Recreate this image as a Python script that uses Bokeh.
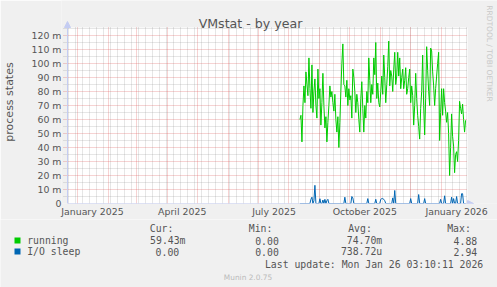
import datetime as dt
import math
import pandas as pd
from bokeh.plotting import figure
from bokeh.models import Range1d, FixedTicker, Label, Arrow, NormalHead, BoxAnnotation
from bokeh.embed import file_html
from bokeh.resources import INLINE

# ---------------- data ----------------
ORIGIN = dt.date(2025, 1, 1)
series_start = dt.date(2025, 8, 12)

# process states, in milli-units (m), one value per day
running = [
    60, 63, 44, 70, 84, 72, 94, 85, 77, 104,
    82, 68, 99, 65, 80, 89, 70, 61, 96, 75,
    82, 56, 72, 93, 70, 54, 62, 44, 58, 70,
    84, 76, 80, 72, 66, 78, 60, 51, 62, 40,
    58, 80, 100, 114, 85, 84, 76, 88, 70, 82,
    74, 77, 61, 96, 90, 80, 65, 78, 72, 60,
    51, 75, 87, 68, 51, 70, 61, 80, 72, 104,
    88, 72, 85, 78, 104, 92, 115, 75, 86, 72,
    69, 80, 91, 78, 106, 90, 72, 85, 98, 116,
    84, 95, 91, 80, 96, 108, 85, 91, 108, 91,
    104, 82, 90, 96, 82, 88, 97, 78, 82, 90,
    96, 72, 84, 77, 56, 70, 93, 75, 63, 55,
    46, 68, 80, 106, 70, 49, 75, 112, 95, 80,
    70, 111, 109, 94, 84, 70, 82, 91, 100, 108,
    45, 65, 82, 63, 82, 72, 66, 58, 65, 50,
    20, 40, 64, 48, 41, 22, 35, 37, 30, 45,
    73, 68, 64, 71, 60, 51, 59.43,
]
io_sleep = [
    0, 0, 0, 0, 0, 0, 0, 0, 0, 0,
    0, 3, 4.5, 0, 2, 13, 0, 0, 0, 0,
    3.4, 0, 0, 2.5, 0, 3, 0, 2, 3, 0,
    0, 0, 0, 0, 0, 0, 0, 0, 0, 0,
    0, 0, 0, 0, 0, 4.5, 0, 0, 0, 0,
    0, 0, 5, 4, 0, 0, 0, 0, 0, 0,
    0, 0, 0, 0, 0, 0, 0, 0, 3.5, 0,
    0, 0, 0, 0, 0, 0, 3, 0, 0, 0,
    0, 3, 3.5, 3.5, 3, 2, 0, 0, 0, 0,
    0, 0, 0, 4, 0, 9.3, 0, 0, 0, 0,
    0, 0, 0, 0, 0, 0, 0, 0, 0, 0,
    0, 3.5, 0, 0, 0, 0, 0, 0, 0, 6.4,
    0, 0, 0, 0, 0, 3.5, 0, 0, 0, 0,
    0, 0, 0, 0, 0, 0, 0, 0, 0, 0,
    0, 3, 0, 0, 0, 5.5, 0, 0, 0, 0,
    0, 0, 4.5, 0, 3.5, 0, 0, 5, 0, 0,
    0, 0, 7, 7, 0, 0, 0,
]

y_major = [0, 10, 20, 30, 40, 50, 60, 70, 80, 90, 100, 110, 120]
y_minor = [5, 15, 25, 35, 45, 55, 65, 75, 85, 95, 105, 115, 125]
y_labels = ["0", "10 m", "20 m", "30 m", "40 m", "50 m", "60 m", "70 m",
            "80 m", "90 m", "100 m", "110 m", "120 m"]

x_label_dates = [dt.date(2025, 1, 16), dt.date(2025, 4, 16), dt.date(2025, 7, 17),
                 dt.date(2025, 10, 16), dt.date(2026, 1, 16)]
x_labels = ["January 2025", "April 2025", "July 2025", "October 2025", "January 2026"]

legend_names = ["running", "I/O sleep"]
legend_colors = ["#00CC00", "#0066B3"]
cur_vals = ["59.43m", "0.00"]
min_vals = ["0.00", "0.00"]
avg_vals = ["74.70m", "738.72u"]
max_vals = ["4.88", "2.94"]
last_update = "Last update: Mon Jan 26 03:10:11 2026"


def day(d):
    return (d - ORIGIN).days


month_starts = [day(d.date()) for d in pd.date_range("2025-01-01", "2026-01-01", freq="MS")]
week_starts = [day(d.date()) for d in pd.date_range("2024-12-23", "2026-01-26", freq="W-MON")]

xs = [day(series_start) + i for i in range(len(running))]

# ---------------- geometry ----------------
FONT_C = "#555555"
AXIS_C = "#C4CCF2"
BG = "#F0F0F0"
TOP_H = 219
BOT_H = 287 - TOP_H
FL, FB = 60, 203          # frame left / bottom (canvas px) of the top figure
PX_PER_DAY = 1.0
PX_PER_UNIT = 1.4
X0_PX = 76                # canvas x of 2025-01-01
XMIN, XMAX = -10, 391     # visible plot area (days)
YMAX = 125.7

p = figure(width=497, height=TOP_H, output_backend="svg", toolbar_location=None,
           title=None,
           x_range=Range1d((FL - X0_PX) / PX_PER_DAY, (497 - X0_PX) / PX_PER_DAY),
           y_range=Range1d(0, FB / PX_PER_UNIT),
           min_border_left=FL, min_border_right=0, min_border_top=0,
           min_border_bottom=TOP_H - FB)
p.background_fill_color = BG
p.border_fill_color = BG
p.outline_line_color = None

# white canvas area of the chart
p.add_layout(BoxAnnotation(left=XMIN, right=XMAX, bottom=0, top=YMAX,
                           fill_color="#FFFFFF", fill_alpha=1.0, line_color=None,
                           level="image"))

# grids (dotted, rrdtool style)
p.ygrid.ticker = FixedTicker(ticks=y_major, minor_ticks=y_minor)
p.xgrid.ticker = FixedTicker(ticks=month_starts, minor_ticks=week_starts)
p.ygrid.cross_bounds = (XMIN - 3.5, XMAX)
p.xgrid.cross_bounds = (-2.5 / PX_PER_UNIT, YMAX)
for g in (p.xgrid, p.ygrid):
    g.grid_line_color = "#DE4F4F"
    g.grid_line_alpha = 0.5
    g.grid_line_dash = "1 1"
    g.minor_grid_line_color = "#8F8F8F"
    g.minor_grid_line_alpha = 0.45
    g.minor_grid_line_dash = "1 1"

# axes
xa = p.xaxis[0]
xa.ticker = FixedTicker(ticks=[day(d) for d in x_label_dates])
xa.major_label_overrides = {day(d): t for d, t in zip(x_label_dates, x_labels)}
xa.major_label_standoff = 2

ya = p.yaxis[0]
ya.ticker = FixedTicker(ticks=y_major)
ya.major_label_overrides = dict(zip(y_major, y_labels))
ya.major_label_standoff = 0
ya.axis_label = "process states"
ya.axis_label_text_font = "DejaVu Sans"
ya.axis_label_text_font_size = "11px"
ya.axis_label_text_font_style = "normal"
ya.axis_label_text_color = FONT_C
ya.axis_label_standoff = 12

for a in (xa, ya):
    a.axis_line_color = None
    a.major_tick_out = 0
    a.major_tick_in = 0
    a.minor_tick_out = 0
    a.minor_tick_in = 0
    a.major_label_text_font = "DejaVu Sans"
    a.major_label_text_font_size = "9.4px"
    a.major_label_text_color = FONT_C

# data
p.line(xs, running, line_color=legend_colors[0], line_width=1)
p.line(xs, io_sleep, line_color=legend_colors[1], line_width=1)

# axis lines with arrows
p.add_layout(Arrow(end=NormalHead(size=6, fill_color=AXIS_C, line_color=AXIS_C),
                   x_start=XMIN, y_start=0, x_end=XMIN, y_end=(FB - 21) / PX_PER_UNIT,
                   line_color=AXIS_C, line_width=1))
p.add_layout(Arrow(end=NormalHead(size=6, fill_color=AXIS_C, line_color=AXIS_C),
                   x_start=XMIN, y_start=0, x_end=473 - X0_PX, y_end=0,
                   line_color=AXIS_C, line_width=1))


def lab(fig, text, X, Y, size, color=FONT_C, font="DejaVu Sans Mono", align="left",
        baseline="middle", angle=0.0, top=True):
    if top:
        x, y = X - FL, FB - Y
    else:
        x, y = X, 287 - Y
    fig.add_layout(Label(x=x, y=y, x_units="screen", y_units="screen",
                         text=text, text_font=font, text_font_size=f"{size}px",
                         text_color=color, text_align=align, text_baseline=baseline,
                         angle=angle))


# title and watermark
lab(p, "VMstat - by year", 249, 22.7, 12.6, font="DejaVu Sans", align="center",
    baseline="alphabetic")
lab(p, "RRDTOOL / TOBI OETIKER", 488, 53, 7.5, color="#C8C8C8", font="DejaVu Sans",
    align="center", angle=-math.pi / 2)

# ---------------- legend area (separate root, frame covers it all) ----------------
q = figure(width=497, height=BOT_H, output_backend="svg", toolbar_location=None,
           title=None, x_range=Range1d(0, 497), y_range=Range1d(0, BOT_H),
           x_axis_location=None, y_axis_location=None,
           min_border_left=0, min_border_right=0, min_border_top=0, min_border_bottom=0)
q.grid.visible = False
q.background_fill_color = BG
q.border_fill_color = BG
q.outline_line_color = None

MS = 9.8
lab(q, "Cur:", 149.3, 228.3, MS, top=False)
lab(q, "Min:", 248.3, 228.3, MS, top=False)
lab(q, "Avg:", 347.7, 228.3, MS, top=False)
lab(q, "Max:", 446.7, 228.3, MS, top=False)
rows_y = [240, 251]
cur_right = [185, 178.7]
for i in range(2):
    yy = rows_y[i]
    q.add_layout(BoxAnnotation(left=14, right=20, bottom=287 - (yy + 3),
                               top=287 - (yy - 3),
                               fill_color=legend_colors[i], fill_alpha=1.0, line_color=None))
    lab(q, legend_names[i], 26.7, yy, MS, top=False)
    lab(q, cur_vals[i], cur_right[i], yy, MS, align="right", top=False)
    lab(q, min_vals[i], 278.3, yy, MS, align="right", top=False)
    lab(q, avg_vals[i], 381.7, yy, MS, align="right", top=False)
    lab(q, max_vals[i], 476.7, yy, MS, align="right", top=False)
lab(q, last_update, 482.7, 264, MS, align="right", top=False)
lab(q, "Munin 2.0.75", 247.5, 276.7, 7.4, color="#BBBBBB", font="DejaVu Sans",
    align="center", top=False)

open("out.html", "w").write(file_html([p, q], INLINE))
